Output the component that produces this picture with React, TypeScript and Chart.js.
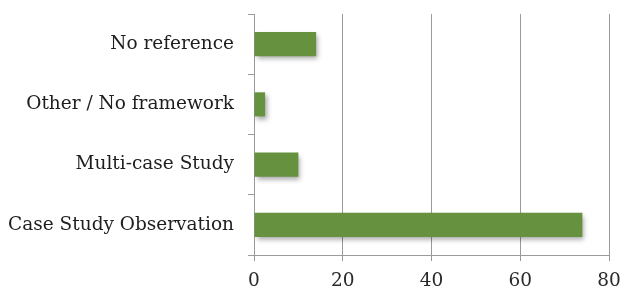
import React, { useEffect, useRef } from "react";
import { Chart, registerables } from "chart.js";

Chart.register(...registerables);

const categories = ["No reference", "Other / No framework", "Multi-case Study", "Case Study Observation"];
const values = [14, 2.5, 10, 74];
const xTicks = [0, 20, 40, 60, 80];

const shadowPlugin = {
  id: "barShadow",
  beforeDatasetsDraw(chart: any) {
    const ctx = chart.ctx;
    ctx.save();
    ctx.shadowColor = "rgba(0,0,0,0.35)";
    ctx.shadowBlur = 5;
    ctx.shadowOffsetX = 2;
    ctx.shadowOffsetY = 3;
  },
  afterDatasetsDraw(chart: any) {
    chart.ctx.restore();
  },
};

export default function App() {
  const ref = useRef<HTMLCanvasElement | null>(null);
  useEffect(() => {
    if (!ref.current) return;
    const font = { family: "'DejaVu Serif', serif", size: 18.5 };
    const chart = new Chart(ref.current, {
      type: "bar",
      data: {
        labels: categories,
        datasets: [
          {
            data: values,
            backgroundColor: "#66913F",
            borderWidth: 0,
            categoryPercentage: 0.8,
            barPercentage: 0.5,
          },
        ],
      },
      plugins: [shadowPlugin],
      options: {
        indexAxis: "y",
        animation: false,
        responsive: false,
        maintainAspectRatio: false,
        layout: { padding: { top: 14, right: 11, left: 0, bottom: 0 } },
        plugins: { legend: { display: false }, tooltip: { enabled: false } },
        scales: {
          x: {
            min: xTicks[0],
            max: xTicks[xTicks.length - 1],
            afterBuildTicks: (axis: any) => {
              axis.ticks = xTicks.map((v) => ({ value: v }));
            },
            afterFit: (axis: any) => {
              axis.height = 32;
              axis.paddingLeft = 0;
              axis.paddingRight = 0;
            },
            grid: {
              color: "#9a9a9a",
              lineWidth: 1,
              drawOnChartArea: true,
              drawTicks: true,
              tickLength: 6,
            },
            border: { display: true, color: "#9a9a9a" },
            ticks: { color: "#2a2a2a", font, padding: 9, maxRotation: 0 },
          },
          y: {
            afterFit: (axis: any) => {
              axis.width = 254;
              axis.paddingTop = 0;
              axis.paddingBottom = 0;
            },
            grid: {
              offset: true,
              color: "#9a9a9a",
              drawOnChartArea: false,
              drawTicks: true,
              tickLength: 6,
            },
            border: { display: true, color: "#9a9a9a" },
            ticks: { color: "#1e1e1e", font, padding: 14 },
          },
        },
      },
    });
    return () => chart.destroy();
  }, []);
  return (
    <div style={{ position: "absolute", left: 0, top: 0, width: 620, height: 287, background: "#fff" }}>
      <canvas ref={ref} width={620} height={287} style={{ width: 620, height: 287 }} />
    </div>
  );
}
